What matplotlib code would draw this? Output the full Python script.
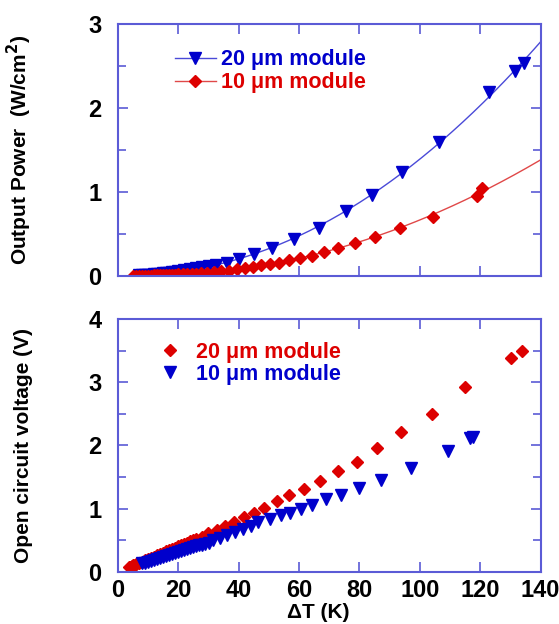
import numpy as np
import matplotlib
matplotlib.use("Agg")
import matplotlib.pyplot as plt
from matplotlib.ticker import MultipleLocator

# top panel: output power (W/cm^2) vs dT (K)
p20_t = [7, 8, 9, 10, 11, 12, 13, 14, 15, 16, 17, 18, 19, 20, 22, 24, 26, 28, 30,
         32.5, 36, 40.2, 45.2, 50.9, 58.2, 66.6, 75.7, 84.2, 94, 106.5, 122.9, 131.5, 134.5]
p20_p = [0.007, 0.009, 0.011, 0.014, 0.017, 0.02, 0.024, 0.027, 0.031, 0.035, 0.04, 0.045,
         0.05, 0.055, 0.066, 0.078, 0.092, 0.106, 0.12, 0.135, 0.16, 0.20, 0.26, 0.33,
         0.44, 0.57, 0.77, 0.97, 1.24, 1.59, 2.19, 2.44, 2.53]
p10_t = [5, 6, 7, 8, 9, 10, 11, 12, 13, 14, 15, 16, 17, 18, 19, 20, 21.5, 23, 24.5, 26,
         27.5, 29.4, 31.8, 34.3, 36.9, 39.3, 42.1, 44.6, 47.3, 50.3, 53.3, 56.6, 60.3,
         64.2, 68.3, 73.0, 78.6, 85.1, 93.4, 104.3, 118.8, 120.6]
p10_p = [0.0, 0.001, 0.002, 0.003, 0.003, 0.004, 0.005, 0.006, 0.007, 0.008, 0.010,
         0.011, 0.013, 0.014, 0.016, 0.018, 0.020, 0.023, 0.026, 0.028, 0.032, 0.036,
         0.044, 0.056, 0.063, 0.08, 0.09, 0.11, 0.127, 0.145, 0.16, 0.19, 0.22, 0.24,
         0.28, 0.33, 0.39, 0.46, 0.57, 0.70, 0.95, 1.05]

# bottom panel: open circuit voltage (V) vs dT (K)
v20_t = [3.5, 4, 4.5, 5, 5.5, 6, 7, 8, 9, 10, 11, 12, 13, 14, 15, 16, 17, 18, 19, 20,
         21, 22, 23, 24, 25, 26, 27.7, 29.9, 32.7, 35.4, 38.4, 41.7, 45.0, 48.4, 52.6,
         56.7, 61.7, 66.9, 72.8, 79.3, 85.9, 93.7, 103.9, 114.9, 130.1, 134.0]
v20_v = [0.07, 0.08, 0.09, 0.10, 0.11, 0.12, 0.14, 0.16, 0.18, 0.20, 0.22, 0.24, 0.26,
         0.28, 0.30, 0.32, 0.34, 0.36, 0.38, 0.40, 0.42, 0.44, 0.46, 0.48, 0.50, 0.52,
         0.55, 0.61, 0.66, 0.72, 0.79, 0.86, 0.93, 1.01, 1.12, 1.21, 1.31, 1.44, 1.60,
         1.74, 1.96, 2.21, 2.50, 2.92, 3.39, 3.50]
v10_t = [8, 9, 10, 11, 12, 13, 14, 15, 16, 17, 18, 19, 20, 21, 22, 23, 24, 25, 26, 27,
         28, 29, 30, 31.6, 33.8, 36.2, 38.8, 41.3, 44, 46.5, 50.4, 54, 57, 60.5, 64.4,
         68.8, 73.8, 79.9, 87.1, 97.2, 109.4, 116.5, 117.5]
v10_v = [0.13, 0.145, 0.16, 0.175, 0.19, 0.205, 0.22, 0.235, 0.25, 0.265, 0.28, 0.295,
         0.31, 0.325, 0.34, 0.355, 0.37, 0.385, 0.40, 0.415, 0.43, 0.445, 0.46, 0.50,
         0.54, 0.58, 0.63, 0.68, 0.72, 0.78, 0.83, 0.89, 0.93, 0.99, 1.06, 1.15, 1.22,
         1.33, 1.45, 1.64, 1.91, 2.11, 2.13]

BLUE = '#0000cc'
RED = '#dd0000'
SPINE = '#5b5bd6'

plt.rcParams['font.family'] = ['Liberation Sans', 'DejaVu Sans']
plt.rcParams['font.weight'] = 'bold'
plt.rcParams['mathtext.default'] = 'bf'

fig = plt.figure(figsize=(5.59, 6.24), dpi=100)
ax1 = fig.add_axes([0.211, 0.5577, 0.756, 0.4038])
ax2 = fig.add_axes([0.211, 0.0838, 0.756, 0.405])

# fitted curves through the top-panel data
tt = np.linspace(5, 140, 200)
fit20 = np.polyfit(p20_t, p20_p, 2)
fit10 = np.polyfit(p10_t, p10_p, 2)
ax1.plot(tt, np.polyval(fit20, tt), color='#4a4ad8', lw=1)
ax1.plot(tt, np.polyval(fit10, tt), color='#e04848', lw=1)
ax1.plot(p20_t, p20_p, 'v', color=BLUE, ms=8, ls='none')
ax1.plot(p10_t, p10_p, 'D', color=RED, ms=6.5, ls='none')

# legend proxies (line + marker)
h1, = ax1.plot([], [], '-v', color='#4a4ad8', mfc=BLUE, mec=BLUE, ms=8, lw=1, label='20 \u03bcm module')
h2, = ax1.plot([], [], '-D', color='#e04848', mfc=RED, mec=RED, ms=6.5, lw=1, label='10 \u03bcm module')
leg1 = ax1.legend(handles=[h1, h2], loc='upper left', bbox_to_anchor=(0.135, 0.9), frameon=False,
                  borderpad=0, borderaxespad=0, handlelength=1.9, handletextpad=0.25,
                  labelspacing=0.1, prop={'size': 15.5, 'weight': 'bold'})
for txt, c in zip(leg1.get_texts(), [BLUE, RED]):
    txt.set_color(c)

ax2.plot(v20_t, v20_v, 'D', color=RED, ms=6.5, ls='none', label='20 \u03bcm module')
ax2.plot(v10_t, v10_v, 'v', color=BLUE, ms=8, ls='none', label='10 \u03bcm module')
leg2 = ax2.legend(loc='upper left', bbox_to_anchor=(0.097, 0.91), frameon=False,
                  borderpad=0, borderaxespad=0, handlelength=1.0, handletextpad=0.7,
                  labelspacing=0.05, prop={'size': 15.5, 'weight': 'bold'})
for txt, c in zip(leg2.get_texts(), [RED, BLUE]):
    txt.set_color(c)

ax1.set_xlim(0, 140)
ax1.set_ylim(0, 3)
ax2.set_xlim(0, 140)
ax2.set_ylim(0, 4)

for ax in (ax1, ax2):
    ax.xaxis.set_major_locator(MultipleLocator(20))
    ax.yaxis.set_major_locator(MultipleLocator(1))
    ax.yaxis.set_minor_locator(MultipleLocator(0.5))
    ax.tick_params(which='both', direction='in', top=True, right=True, color=SPINE,
                   width=1.2, labelsize=17, pad=7)
    ax.tick_params(which='major', length=7)
    ax.tick_params(which='minor', length=6)
    for sp in ax.spines.values():
        sp.set_color(SPINE)
        sp.set_linewidth(1.5)

ax1.tick_params(axis='x', labelbottom=False)
ax1.tick_params(axis='y', pad=12)
ax2.tick_params(axis='y', pad=12)
ax2.tick_params(axis='x', pad=5)

ax1.set_ylabel('Output Power  (W/cm$^2$)', fontsize=15, fontweight='bold')
ax1.yaxis.set_label_coords(-0.198, 0.5)
ax2.set_ylabel('Open circuit voltage (V)', fontsize=15, fontweight='bold')
ax2.yaxis.set_label_coords(-0.2, 0.5)
ax2.set_xlabel('\u0394T (K)', fontsize=15, fontweight='bold', labelpad=2)
ax2.xaxis.set_label_coords(0.475, -0.125)

fig.savefig('out.png', dpi=100)
